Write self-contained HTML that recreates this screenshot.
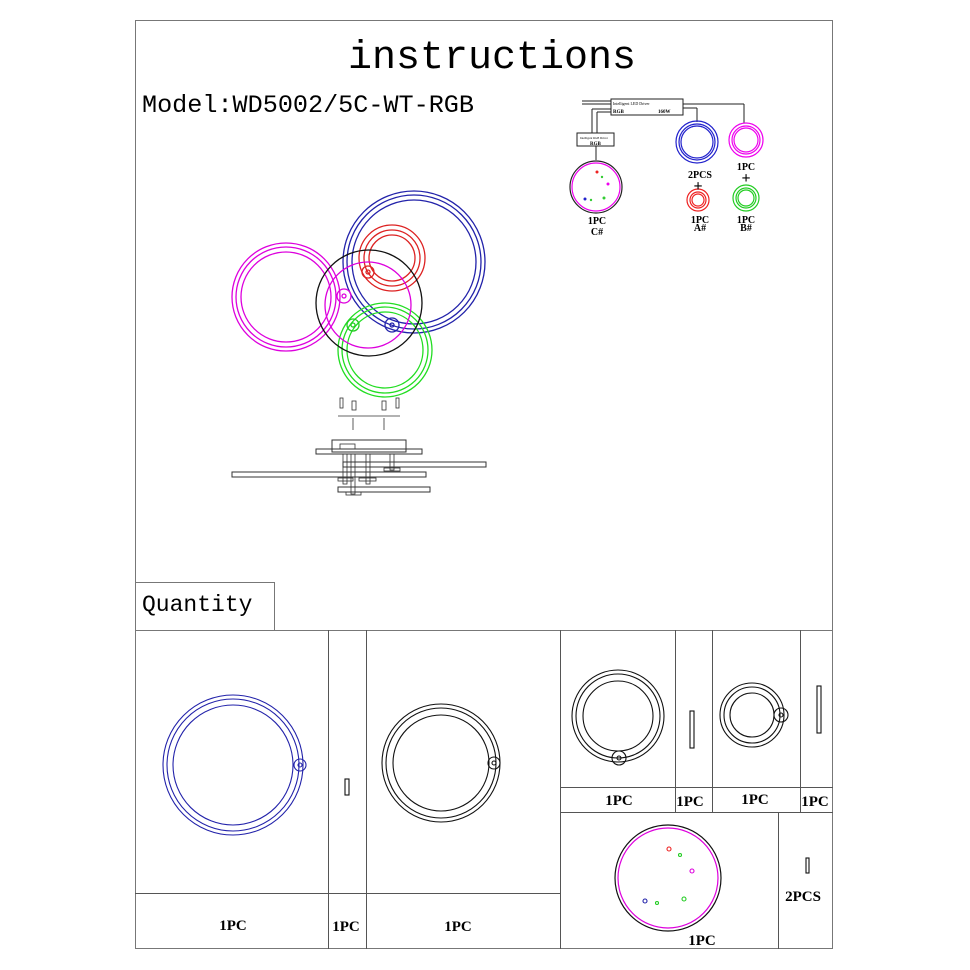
<!DOCTYPE html>
<html><head><meta charset="utf-8"><style>
html,body{margin:0;padding:0;background:#fff;}
svg{display:block;}
.s{font-family:"Liberation Serif","DejaVu Serif",serif;}
.m{font-family:"Liberation Mono","DejaVu Sans Mono",monospace;}
</style></head><body>
<svg width="970" height="970" viewBox="0 0 970 970" xmlns="http://www.w3.org/2000/svg">
<rect x="0" y="0" width="970" height="970" fill="#fff"/>
<g fill="none" stroke="#777" stroke-width="1">
<rect x="135.5" y="20.5" width="697" height="928"/>
<polyline points="135.5,582.5 274.5,582.5 274.5,630.5"/>
<line x1="135" y1="630.5" x2="833" y2="630.5"/>
</g>
<g fill="none" stroke="#555" stroke-width="1">
<line x1="328.5" y1="630" x2="328.5" y2="949"/>
<line x1="366.5" y1="630" x2="366.5" y2="949"/>
<line x1="560.5" y1="630" x2="560.5" y2="949"/>
<line x1="135" y1="893.5" x2="560" y2="893.5"/>
<line x1="675.5" y1="630" x2="675.5" y2="812"/>
<line x1="712.5" y1="630" x2="712.5" y2="812"/>
<line x1="800.5" y1="630" x2="800.5" y2="812"/>
<line x1="560" y1="787.5" x2="833" y2="787.5"/>
<line x1="560" y1="812.5" x2="833" y2="812.5"/>
<line x1="778.5" y1="812" x2="778.5" y2="949"/>
</g>
<text class="m" x="492" y="68" font-size="40" text-anchor="middle">instructions</text>
<text class="m" x="142" y="112" font-size="25" textLength="332" lengthAdjust="spacingAndGlyphs">Model:WD5002/5C-WT-RGB</text>
<text class="m" x="142" y="611" font-size="23">Quantity</text>

<!-- wiring diagram -->
<g fill="none" stroke="#222" stroke-width="1">
<line x1="582" y1="101" x2="611" y2="101"/><line x1="582" y1="104" x2="611" y2="104"/>
<rect x="611" y="99" width="72" height="16"/>
<line x1="683" y1="104" x2="744" y2="104"/><line x1="744" y1="104" x2="744" y2="123"/>
<line x1="683" y1="108" x2="697" y2="108"/><line x1="697" y1="108" x2="697" y2="122"/>
<line x1="611" y1="109" x2="592" y2="109"/><line x1="592" y1="109" x2="592" y2="133"/>
<line x1="611" y1="112" x2="597" y2="112"/><line x1="597" y1="112" x2="597" y2="133"/>
<rect x="577" y="133" width="37" height="13"/>
<line x1="596" y1="146" x2="596" y2="160"/>
</g>
<g class="s">
<text x="613" y="105" font-size="4">Intelligent LED Driver</text>
<text x="613" y="113" font-size="5" font-weight="bold">RGB</text>
<text x="658" y="113" font-size="5" font-weight="bold">160W</text>
<text x="580" y="139" font-size="3">Intelligent RGB Driver</text>
<text x="590" y="145" font-size="5" font-weight="bold">RGB</text>
</g>
<circle cx="596" cy="187" r="26" fill="none" stroke="#222" stroke-width="1.2"/>
<circle cx="596" cy="187" r="24" fill="none" stroke="#e0e" stroke-width="1.2"/>
<circle cx="597" cy="172" r="1.5" fill="#e22"/><circle cx="602" cy="177" r="1.2" fill="#3c3"/>
<circle cx="608" cy="184" r="1.5" fill="#e0e"/><circle cx="585" cy="199" r="1.5" fill="#22c"/>
<circle cx="591" cy="200" r="1.2" fill="#3c3"/><circle cx="604" cy="198" r="1.5" fill="#3c3"/>
<g fill="none" stroke="#22c" stroke-width="1.2"><circle cx="697" cy="142" r="21"/><circle cx="697" cy="142" r="18"/><circle cx="697" cy="142" r="16"/></g>
<g fill="none" stroke="#e0e" stroke-width="1.2"><circle cx="746" cy="140" r="17"/><circle cx="746" cy="140" r="14"/><circle cx="746" cy="140" r="12"/></g>
<g fill="none" stroke="#e22" stroke-width="1.2"><circle cx="698" cy="200" r="11"/><circle cx="698" cy="200" r="8"/><circle cx="698" cy="200" r="6"/></g>
<g fill="none" stroke="#2c2" stroke-width="1.2"><circle cx="746" cy="198" r="13"/><circle cx="746" cy="198" r="10"/><circle cx="746" cy="198" r="8"/></g>
<g class="s" font-size="10" font-weight="bold" text-anchor="middle">
<text x="597" y="224">1PC</text><text x="597" y="235">C#</text>
<text x="700" y="178">2PCS</text><text x="700" y="223">1PC</text><text x="700" y="231">A#</text>
<text x="746" y="170">1PC</text><text x="746" y="223">1PC</text><text x="746" y="231">B#</text>
<text x="698" y="191" font-size="16">+</text><text x="746" y="183" font-size="16">+</text>
</g>

<!-- main rings -->
<g fill="none" stroke-width="1.3">
<g stroke="#d0d"><circle cx="286" cy="297" r="54"/><circle cx="286" cy="297" r="50"/><circle cx="286" cy="297" r="45"/></g>
<g stroke="#22a"><circle cx="414" cy="262" r="71"/><circle cx="414" cy="262" r="67"/><circle cx="414" cy="262" r="62"/></g>
<g stroke="#d22"><circle cx="392" cy="258" r="33"/><circle cx="392" cy="258" r="28"/><circle cx="392" cy="258" r="23"/></g>
<g stroke="#2d2"><circle cx="385" cy="350" r="47"/><circle cx="385" cy="350" r="43"/><circle cx="385" cy="350" r="38"/></g>
<circle cx="369" cy="303" r="53" stroke="#111"/>
<circle cx="368" cy="305" r="43" stroke="#d0d"/>
<circle cx="344" cy="296" r="7" stroke="#d0d"/><circle cx="344" cy="296" r="2" stroke="#d0d"/>
<circle cx="368" cy="272" r="6" stroke="#d22"/><circle cx="368" cy="272" r="2" stroke="#d22"/>
<circle cx="353" cy="325" r="6" stroke="#2c2"/><circle cx="353" cy="325" r="2" stroke="#2c2"/>
<circle cx="392" cy="325" r="7" stroke="#22a"/><circle cx="392" cy="325" r="2" stroke="#22a"/>
</g>

<!-- side view -->
<g fill="none" stroke="#333" stroke-width="0.8">
<rect x="340" y="398" width="3" height="10"/><rect x="352" y="401" width="4" height="9"/>
<rect x="382" y="401" width="4" height="9"/><rect x="396" y="398" width="3" height="10"/>
<line x1="338" y1="416" x2="400" y2="416"/>
<line x1="353" y1="418" x2="353" y2="430"/><line x1="384" y1="418" x2="384" y2="430"/>
<rect x="332" y="440" width="74" height="12" stroke-width="1"/>
<rect x="316" y="449" width="106" height="5" stroke-width="1"/>
<rect x="340" y="444" width="15" height="5"/>
<rect x="343" y="454" width="4" height="30"/><rect x="351" y="454" width="4" height="40"/>
<rect x="366" y="454" width="4" height="30"/><rect x="390" y="454" width="4" height="16"/>
<rect x="343" y="462" width="143" height="5" stroke-width="1"/>
<rect x="232" y="472" width="194" height="5" stroke-width="1"/>
<rect x="338" y="487" width="92" height="5" stroke-width="1"/>
<rect x="384" y="468" width="16" height="3"/><rect x="338" y="478" width="15" height="3"/>
<rect x="359" y="478" width="17" height="3"/><rect x="346" y="492" width="15" height="3"/>
</g>

<!-- quantity parts -->
<g fill="none" stroke-width="1.1">
<g stroke="#22a"><circle cx="233" cy="765" r="70"/><circle cx="233" cy="765" r="66"/><circle cx="233" cy="765" r="60"/>
<circle cx="300" cy="765" r="6"/><circle cx="300" cy="765" r="2"/></g>
<g stroke="#111"><circle cx="441" cy="763" r="59"/><circle cx="441" cy="763" r="55"/><circle cx="441" cy="763" r="48"/>
<circle cx="494" cy="763" r="6"/><circle cx="494" cy="763" r="2"/>
<rect x="345" y="779" width="4" height="16"/>
<circle cx="618" cy="716" r="46"/><circle cx="618" cy="716" r="42"/><circle cx="618" cy="716" r="35"/>
<circle cx="619" cy="758" r="7"/><circle cx="619" cy="758" r="2"/>
<rect x="690" y="711" width="4" height="37"/>
<circle cx="752" cy="715" r="32"/><circle cx="752" cy="715" r="28"/><circle cx="752" cy="715" r="22"/>
<circle cx="781" cy="715" r="7"/><circle cx="781" cy="715" r="2"/>
<rect x="817" y="686" width="4" height="47"/>
<circle cx="668" cy="878" r="53" stroke-width="1.2"/>
<rect x="806" y="858" width="3" height="15"/></g>
<circle cx="668" cy="878" r="50" stroke="#d0d" stroke-width="1.2"/>
<circle cx="669" cy="849" r="2" stroke="#e22"/><circle cx="680" cy="855" r="1.5" stroke="#2c2"/>
<circle cx="692" cy="871" r="2" stroke="#d0d"/><circle cx="645" cy="901" r="2" stroke="#22a"/>
<circle cx="657" cy="903" r="1.5" stroke="#2c2"/><circle cx="684" cy="899" r="2" stroke="#2c2"/>
</g>
<g class="s" font-size="15" font-weight="bold" text-anchor="middle">
<text x="233" y="930">1PC</text><text x="346" y="931">1PC</text><text x="458" y="931">1PC</text>
<text x="619" y="805">1PC</text><text x="690" y="806">1PC</text><text x="755" y="804">1PC</text><text x="815" y="806">1PC</text>
<text x="702" y="945">1PC</text><text x="803" y="901">2PCS</text>
</g>
</svg>
</body></html>
